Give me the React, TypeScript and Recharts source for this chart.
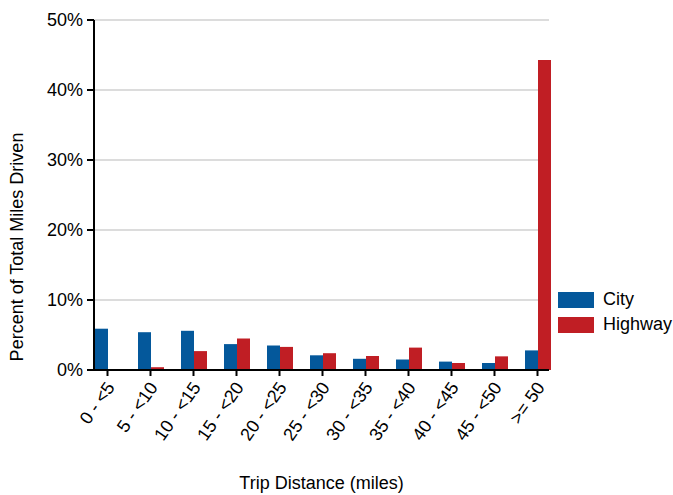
import React from "react";
import {
  BarChart,
  Bar,
  XAxis,
  YAxis,
  CartesianGrid,
} from "recharts";

// trip distance buckets and share of miles driven (%)
const categories = ["0 - <5", "5 - <10", "10 - <15", "15 - <20", "20 - <25", "25 - <30", "30 - <35", "35 - <40", "40 - <45", "45 - <50", ">= 50"];
const cityValues = [5.9, 5.4, 5.6, 3.7, 3.5, 2.1, 1.6, 1.5, 1.2, 1.0, 2.8];
const highwayValues = [0, 0.4, 2.7, 4.5, 3.3, 2.4, 2.0, 3.2, 1.0, 1.95, 44.3];
const yTicks = [0, 10, 20, 30, 40, 50];

const CITY = "#04589b";
const HIGHWAY = "#c01e24";
const FONT = "'Liberation Sans', Arial, sans-serif";

const data = categories.map((c, i) => ({
  name: c,
  city: cityValues[i],
  highway: highwayValues[i],
}));

const legendItems = [
  { label: "City", color: CITY },
  { label: "Highway", color: HIGHWAY },
];

const XTick = (props: any) => {
  const { x, y, payload } = props;
  return (
    <text
      transform={`translate(${x + 3},${y + 6}) rotate(-55)`}
      textAnchor="end"
      dominantBaseline="central"
      fontSize={18}
      fontFamily={FONT}
      fill="#000"
    >
      {payload.value}
    </text>
  );
};

export default function App() {
  return (
    <div style={{ position: "absolute", left: 0, top: 0, width: 673, height: 495, background: "#fff" }}>
      <BarChart
        width={673}
        height={495}
        data={data}
        margin={{ top: 20, right: 124, bottom: 0, left: 0 }}
        barGap={0}
        barSize={13}
        style={{ fontFamily: FONT }}
      >
        <CartesianGrid horizontal vertical={false} stroke="#dcdcdc" strokeWidth={2} />
        <XAxis
          dataKey="name"
          height={125}
          padding={{ left: -8, right: -10 }}
          interval={0}
          tick={<XTick />}
          tickSize={6}
          axisLine={{ stroke: "#000", strokeWidth: 2 }}
          tickLine={{ stroke: "#000", strokeWidth: 2 }}
          label={{ value: "Trip Distance (miles)", position: "insideBottom", offset: 6, fontSize: 18, fill: "#000", fontFamily: FONT }}
        />
        <YAxis
          width={94}
          domain={[0, 50]}
          ticks={yTicks}
          interval={0}
          tickFormatter={(v) => `${v}%`}
          tickSize={7}
          tickMargin={4}
          tick={{ fontSize: 18, fill: "#000", fontFamily: FONT }}
          axisLine={{ stroke: "#000", strokeWidth: 2 }}
          tickLine={{ stroke: "#000", strokeWidth: 2 }}
          label={{ value: "Percent of Total Miles Driven", angle: -90, position: "center", dx: -30, dy: 52, fontSize: 18, fill: "#000", fontFamily: FONT }}
        />
        <Bar dataKey="city" name="City" fill={CITY} isAnimationActive={false} />
        <Bar dataKey="highway" name="Highway" fill={HIGHWAY} isAnimationActive={false} />
      </BarChart>
      <div style={{ position: "absolute", left: 558, top: 287, fontFamily: FONT, fontSize: 18, color: "#000" }}>
        {legendItems.map((e) => (
          <div key={e.label} style={{ display: "flex", alignItems: "center", height: 25 }}>
            <span style={{ width: 36, height: 16, background: e.color, display: "inline-block", marginRight: 9 }} />
            <span>{e.label}</span>
          </div>
        ))}
      </div>
    </div>
  );
}
